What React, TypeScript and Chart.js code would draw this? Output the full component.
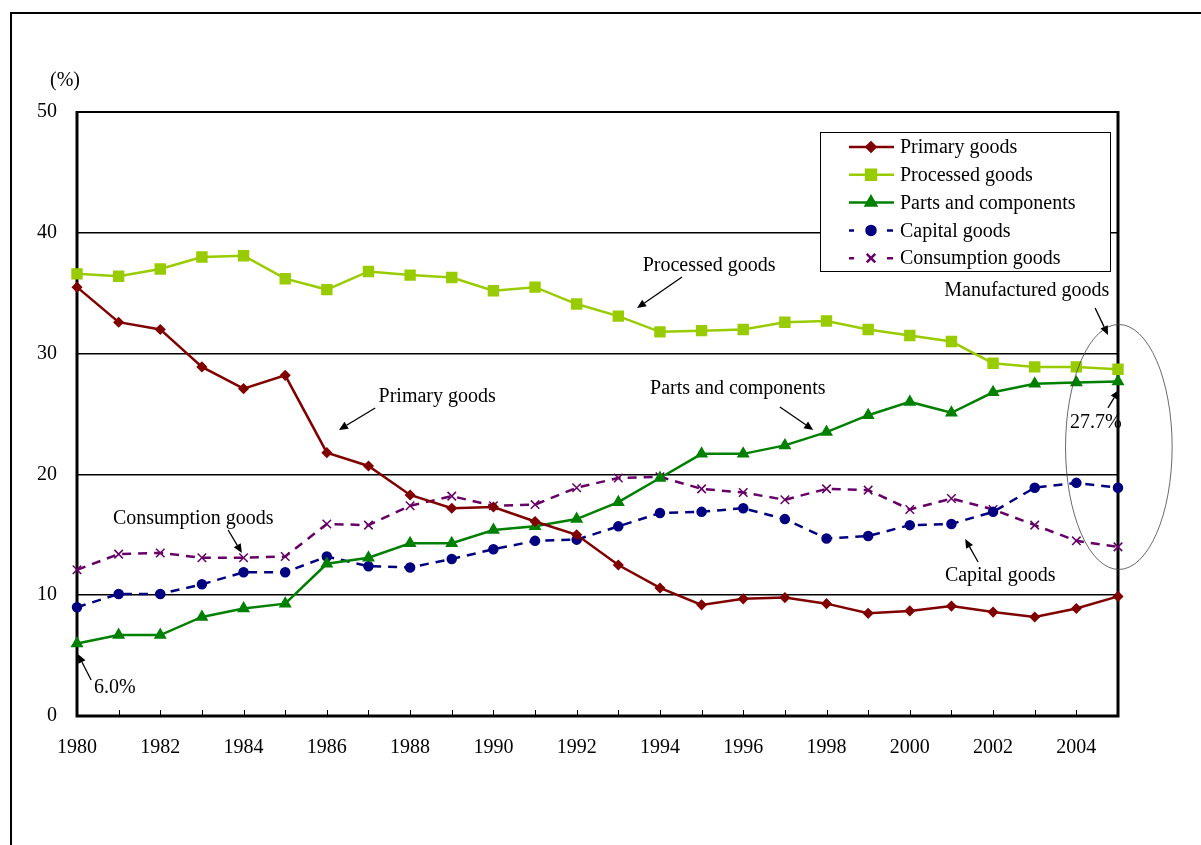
import React, { useEffect, useRef } from "react";
import { Chart, registerables } from "chart.js";
import { drawPoint } from "chart.js/helpers";

Chart.register(...registerables);

const years = [
  "1980", "1981", "1982", "1983", "1984", "1985", "1986", "1987", "1988", "1989",
  "1990", "1991", "1992", "1993", "1994", "1995", "1996", "1997", "1998", "1999",
  "2000", "2001", "2002", "2003", "2004", "2005",
];

const primaryGoods = [35.5, 32.6, 32.0, 28.9, 27.1, 28.2, 21.8, 20.7, 18.3, 17.2, 17.3, 16.1, 15.0, 12.5, 10.6, 9.2, 9.7, 9.8, 9.3, 8.5, 8.7, 9.1, 8.6, 8.2, 8.9, 9.9];
const processedGoods = [36.6, 36.4, 37.0, 38.0, 38.1, 36.2, 35.3, 36.8, 36.5, 36.3, 35.2, 35.5, 34.1, 33.1, 31.8, 31.9, 32.0, 32.6, 32.7, 32.0, 31.5, 31.0, 29.2, 28.9, 28.9, 28.7];
const partsComponents = [6.0, 6.7, 6.7, 8.2, 8.9, 9.3, 12.6, 13.1, 14.3, 14.3, 15.4, 15.7, 16.3, 17.7, 19.7, 21.7, 21.7, 22.4, 23.5, 24.9, 26.0, 25.1, 26.8, 27.5, 27.6, 27.7];
const capitalGoods = [9.0, 10.1, 10.1, 10.9, 11.9, 11.9, 13.2, 12.4, 12.3, 13.0, 13.8, 14.5, 14.6, 15.7, 16.8, 16.9, 17.2, 16.3, 14.7, 14.9, 15.8, 15.9, 16.9, 18.9, 19.3, 18.9];
const consumptionGoods = [12.1, 13.4, 13.5, 13.1, 13.1, 13.2, 15.9, 15.8, 17.4, 18.2, 17.4, 17.5, 18.9, 19.7, 19.8, 18.8, 18.5, 17.9, 18.8, 18.7, 17.1, 18.0, 17.1, 15.8, 14.5, 14.0];

const yTicks = [0, 10, 20, 30, 40, 50];

// annotations in data coordinates: [xIndex, value]
type Note = { text: string; at: [number, number]; from?: [number, number]; to?: [number, number] };
const notes: Note[] = [
  { text: "Processed goods", at: [15.18, 37.25], from: [14.53, 36.34], to: [13.45, 33.77] },
  { text: "Manufactured goods", at: [22.81, 35.18], from: [24.45, 33.77], to: [24.76, 31.54] },
  { text: "27.7%", at: [24.47, 24.25], from: [24.76, 25.5], to: [25.02, 26.99] },
  { text: "Primary goods", at: [8.65, 26.41], from: [7.16, 25.5], to: [6.29, 23.68] },
  { text: "Parts and components", at: [15.87, 27.07], from: [16.88, 25.58], to: [17.68, 23.68] },
  { text: "Consumption goods", at: [2.79, 16.31], from: [3.63, 15.4], to: [3.96, 13.49] },
  { text: "Capital goods", at: [22.17, 11.59], from: [21.64, 12.75], to: [21.33, 14.65] },
  { text: "6.0%", at: [0.91, 2.32], from: [0.34, 2.98], to: [0.02, 5.13] },
];
const ellipse = { center: [25.02, 22.27], rx: 1.28, ry: 10.14 };

const FONT = "'Liberation Serif', 'Times New Roman', serif";

function arrow(ctx: CanvasRenderingContext2D, x1: number, y1: number, x2: number, y2: number) {
  const ang = Math.atan2(y2 - y1, x2 - x1);
  const hl = 9;
  const hw = 4;
  const bx = x2 - hl * Math.cos(ang);
  const by = y2 - hl * Math.sin(ang);
  ctx.save();
  ctx.strokeStyle = "#000";
  ctx.fillStyle = "#000";
  ctx.lineWidth = 1.3;
  ctx.beginPath();
  ctx.moveTo(x1, y1);
  ctx.lineTo(bx, by);
  ctx.stroke();
  ctx.beginPath();
  ctx.moveTo(x2, y2);
  ctx.lineTo(bx + hw * Math.sin(ang), by - hw * Math.cos(ang));
  ctx.lineTo(bx - hw * Math.sin(ang), by + hw * Math.cos(ang));
  ctx.closePath();
  ctx.fill();
  ctx.restore();
}

const decorPlugin = {
  id: "decor",
  beforeDraw(chart: any) {
    const ctx = chart.ctx as CanvasRenderingContext2D;
    ctx.save();
    ctx.fillStyle = "#fff";
    ctx.fillRect(0, 0, chart.width, chart.height);
    ctx.strokeStyle = "#000";
    ctx.lineWidth = 2;
    ctx.strokeRect(11, 13, chart.width + 200, chart.height + 200);
    ctx.restore();
  },
  beforeDatasetsDraw(chart: any) {
    const ctx = chart.ctx as CanvasRenderingContext2D;
    const a = chart.chartArea;
    const xs = chart.scales.x;
    ctx.save();
    ctx.strokeStyle = "#000";
    ctx.lineWidth = 1;
    for (let i = 1; i < years.length - 1; i++) {
      const x = Math.round(xs.getPixelForValue(i)) + 0.5;
      ctx.beginPath();
      ctx.moveTo(x, a.bottom);
      ctx.lineTo(x, a.bottom - 6);
      ctx.stroke();
    }
    ctx.lineWidth = 2;
    ctx.beginPath();
    ctx.moveTo(a.left, a.top);
    ctx.lineTo(a.right, a.top);
    ctx.stroke();
    ctx.lineWidth = 3;
    ctx.beginPath();
    ctx.moveTo(a.left, a.top - 1);
    ctx.lineTo(a.left, a.bottom);
    ctx.lineTo(a.right, a.bottom);
    ctx.lineTo(a.right, a.top - 1);
    ctx.stroke();
    ctx.restore();
  },
  afterDraw(chart: any) {
    const ctx = chart.ctx as CanvasRenderingContext2D;
    const xs = chart.scales.x;
    const ys = chart.scales.y;
    const a = chart.chartArea;
    ctx.save();
    ctx.fillStyle = "#000";
    ctx.font = `20px ${FONT}`;
    ctx.textAlign = "left";
    ctx.textBaseline = "middle";
    ctx.fillText("(%)", a.left - 27, a.top - 31);

    // ellipse
    ctx.strokeStyle = "#444";
    ctx.lineWidth = 0.8;
    const cx = xs.getPixelForValue(ellipse.center[0]);
    const cy = ys.getPixelForValue(ellipse.center[1]);
    const rx = xs.getPixelForValue(ellipse.center[0] + ellipse.rx) - cx;
    const ry = cy - ys.getPixelForValue(ellipse.center[1] + ellipse.ry);
    ctx.beginPath();
    ctx.ellipse(cx, cy, rx, ry, 0, 0, Math.PI * 2);
    ctx.stroke();

    // notes
    ctx.font = `20px ${FONT}`;
    ctx.textAlign = "center";
    ctx.textBaseline = "middle";
    ctx.fillStyle = "#000";
    for (const n of notes) {
      ctx.fillText(n.text, xs.getPixelForValue(n.at[0]), ys.getPixelForValue(n.at[1]));
      if (n.from && n.to) {
        arrow(
          ctx,
          xs.getPixelForValue(n.from[0]), ys.getPixelForValue(n.from[1]),
          xs.getPixelForValue(n.to[0]), ys.getPixelForValue(n.to[1])
        );
      }
    }

    // legend
    const lx = 820, ly = 132, lw = 290, lh = 139;
    ctx.fillStyle = "#fff";
    ctx.fillRect(lx, ly, lw, lh);
    ctx.strokeStyle = "#000";
    ctx.lineWidth = 1;
    ctx.strokeRect(lx + 0.5, ly + 0.5, lw, lh);
    chart.data.datasets.forEach((ds: any, i: number) => {
      const y = ly + 15 + i * 27.8;
      ctx.strokeStyle = ds.borderColor;
      ctx.lineWidth = 2.5;
      if (ds.borderDash && ds.borderDash.length) {
        ctx.beginPath();
        ctx.moveTo(849, y); ctx.lineTo(854, y);
        ctx.moveTo(887, y); ctx.lineTo(893, y);
        ctx.stroke();
      } else {
        ctx.beginPath();
        ctx.moveTo(849, y);
        ctx.lineTo(894, y);
        ctx.stroke();
      }
      ctx.fillStyle = ds.pointBackgroundColor;
      ctx.strokeStyle = ds.pointBorderColor;
      drawPoint(ctx, { pointStyle: ds.pointStyle, radius: ds.pointRadius, rotation: 0, borderWidth: ds.pointBorderWidth }, 871, y);
      ctx.fillStyle = "#000";
      ctx.font = `20px ${FONT}`;
      ctx.textAlign = "left";
      ctx.textBaseline = "middle";
      ctx.fillText(ds.label, 900, y + 1);
    });
    ctx.restore();
  },
};

function series(label: string, data: number[], color: string, style: string, radius: number, dashed: boolean) {
  return {
    label,
    data,
    borderColor: color,
    backgroundColor: color,
    borderWidth: 2.5,
    borderDash: dashed ? [9, 7] : [],
    pointStyle: style,
    pointRadius: radius,
    pointBackgroundColor: color,
    pointBorderColor: color,
    pointBorderWidth: 1.5,
    tension: 0,
    fill: false,
  };
}

export default function App() {
  const ref = useRef<HTMLCanvasElement>(null);
  useEffect(() => {
    if (!ref.current) return;
    const chart = new Chart(ref.current, {
      type: "line",
      data: {
        labels: years,
        datasets: [
          series("Primary goods", primaryGoods, "#800000", "rectRot", 4.5, false),
          series("Processed goods", processedGoods, "#99CC00", "rect", 7, false),
          series("Parts and components", partsComponents, "#008000", "triangle", 6, false),
          series("Capital goods", capitalGoods, "#000080", "circle", 4.5, true),
          series("Consumption goods", consumptionGoods, "#660066", "crossRot", 6, true),
        ] as any,
      },
      options: {
        animation: false,
        responsive: false,
        devicePixelRatio: 1,
        layout: { padding: { top: 112, right: 83, bottom: 69, left: 0 } },
        plugins: { legend: { display: false }, tooltip: { enabled: false } },
        scales: {
          x: {
            type: "category",
            offset: false,
            grid: { display: false, drawTicks: false },
            border: { display: false },
            afterFit: (s: any) => { s.height = 60; },
            ticks: {
              autoSkip: false,
              maxRotation: 0,
              padding: 20,
              color: "#000",
              font: { family: FONT, size: 20 },
              callback: (_v: any, i: number) => (i % 2 === 0 ? years[i] : ""),
            },
          },
          y: {
            min: 0,
            max: 50,
            afterFit: (s: any) => { s.width = 77; },
            afterBuildTicks: (s: any) => { s.ticks = yTicks.map((v) => ({ value: v })); },
            grid: { color: "#000", lineWidth: 1.5, drawTicks: false },
            border: { display: false },
            ticks: {
              padding: 20,
              color: "#000",
              font: { family: FONT, size: 20 },
            },
          },
        },
      } as any,
      plugins: [decorPlugin],
    });
    return () => chart.destroy();
  }, []);
  return (
    <div style={{ position: "absolute", left: 0, top: 0, width: 1201, height: 845 }}>
      <canvas ref={ref} width={1201} height={845} style={{ width: 1201, height: 845, display: "block" }} />
    </div>
  );
}
